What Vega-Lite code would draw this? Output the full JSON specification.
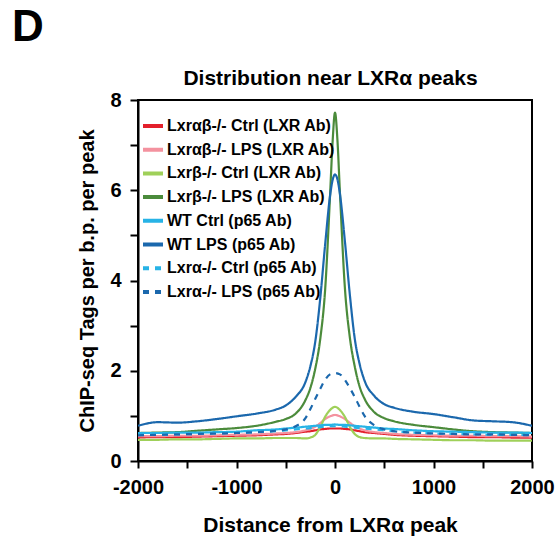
{
  "$schema": "https://vega.github.io/schema/vega-lite/v6.json",
  "width": 394,
  "height": 361,
  "autosize": {"type": "none"},
  "padding": {"left": 138, "top": 100, "right": 25, "bottom": 77},
  "background": "white",
  "title": {"text": "D", "anchor": "start", "frame": "group", "fontSize": 44, "fontWeight": "bold", "font": "Liberation Sans", "color": "black", "dx": -126, "dy": -13, "offset": 4},
  "config": {
    "view": {"stroke": "black", "strokeWidth": 2},
    "axis": {
      "grid": false,
      "domainColor": "black", "domainWidth": 2,
      "tickColor": "black", "tickWidth": 2,
      "labelFont": "Liberation Sans", "labelFontSize": 20, "labelFontWeight": "bold", "labelColor": "black",
      "titleFont": "Liberation Sans", "titleFontSize": 20, "titleFontWeight": "bold", "titleColor": "black"
    },
    "legend": {"labelFont": "Liberation Sans", "labelFontSize": 16, "labelFontWeight": "bold", "labelColor": "black"}
  },
  "data": {"values": [
    {"s":"Lxrαβ-/- Ctrl (LXR Ab)","x":-2000,"y":0.52},{"s":"Lxrαβ-/- Ctrl (LXR Ab)","x":-1800,"y":0.53},{"s":"Lxrαβ-/- Ctrl (LXR Ab)","x":-1600,"y":0.53},{"s":"Lxrαβ-/- Ctrl (LXR Ab)","x":-1400,"y":0.54},{"s":"Lxrαβ-/- Ctrl (LXR Ab)","x":-1200,"y":0.55},{"s":"Lxrαβ-/- Ctrl (LXR Ab)","x":-1000,"y":0.56},{"s":"Lxrαβ-/- Ctrl (LXR Ab)","x":-800,"y":0.57},{"s":"Lxrαβ-/- Ctrl (LXR Ab)","x":-600,"y":0.59},{"s":"Lxrαβ-/- Ctrl (LXR Ab)","x":-500,"y":0.6},{"s":"Lxrαβ-/- Ctrl (LXR Ab)","x":-400,"y":0.62},{"s":"Lxrαβ-/- Ctrl (LXR Ab)","x":-300,"y":0.65},{"s":"Lxrαβ-/- Ctrl (LXR Ab)","x":-250,"y":0.66},{"s":"Lxrαβ-/- Ctrl (LXR Ab)","x":-200,"y":0.68},{"s":"Lxrαβ-/- Ctrl (LXR Ab)","x":-150,"y":0.7},{"s":"Lxrαβ-/- Ctrl (LXR Ab)","x":-100,"y":0.71},{"s":"Lxrαβ-/- Ctrl (LXR Ab)","x":-50,"y":0.72},{"s":"Lxrαβ-/- Ctrl (LXR Ab)","x":0,"y":0.72},{"s":"Lxrαβ-/- Ctrl (LXR Ab)","x":50,"y":0.72},{"s":"Lxrαβ-/- Ctrl (LXR Ab)","x":100,"y":0.71},{"s":"Lxrαβ-/- Ctrl (LXR Ab)","x":150,"y":0.7},{"s":"Lxrαβ-/- Ctrl (LXR Ab)","x":200,"y":0.68},{"s":"Lxrαβ-/- Ctrl (LXR Ab)","x":250,"y":0.66},{"s":"Lxrαβ-/- Ctrl (LXR Ab)","x":300,"y":0.64},{"s":"Lxrαβ-/- Ctrl (LXR Ab)","x":400,"y":0.62},{"s":"Lxrαβ-/- Ctrl (LXR Ab)","x":500,"y":0.6},{"s":"Lxrαβ-/- Ctrl (LXR Ab)","x":600,"y":0.58},{"s":"Lxrαβ-/- Ctrl (LXR Ab)","x":800,"y":0.56},{"s":"Lxrαβ-/- Ctrl (LXR Ab)","x":1000,"y":0.55},{"s":"Lxrαβ-/- Ctrl (LXR Ab)","x":1200,"y":0.54},{"s":"Lxrαβ-/- Ctrl (LXR Ab)","x":1400,"y":0.53},{"s":"Lxrαβ-/- Ctrl (LXR Ab)","x":1600,"y":0.53},{"s":"Lxrαβ-/- Ctrl (LXR Ab)","x":1800,"y":0.52},{"s":"Lxrαβ-/- Ctrl (LXR Ab)","x":2000,"y":0.52},
    {"s":"Lxrαβ-/- LPS (LXR Ab)","x":-2000,"y":0.55},{"s":"Lxrαβ-/- LPS (LXR Ab)","x":-1800,"y":0.55},{"s":"Lxrαβ-/- LPS (LXR Ab)","x":-1600,"y":0.56},{"s":"Lxrαβ-/- LPS (LXR Ab)","x":-1400,"y":0.56},{"s":"Lxrαβ-/- LPS (LXR Ab)","x":-1200,"y":0.57},{"s":"Lxrαβ-/- LPS (LXR Ab)","x":-1000,"y":0.58},{"s":"Lxrαβ-/- LPS (LXR Ab)","x":-800,"y":0.59},{"s":"Lxrαβ-/- LPS (LXR Ab)","x":-600,"y":0.61},{"s":"Lxrαβ-/- LPS (LXR Ab)","x":-500,"y":0.62},{"s":"Lxrαβ-/- LPS (LXR Ab)","x":-400,"y":0.64},{"s":"Lxrαβ-/- LPS (LXR Ab)","x":-300,"y":0.68},{"s":"Lxrαβ-/- LPS (LXR Ab)","x":-250,"y":0.71},{"s":"Lxrαβ-/- LPS (LXR Ab)","x":-200,"y":0.76},{"s":"Lxrαβ-/- LPS (LXR Ab)","x":-150,"y":0.84},{"s":"Lxrαβ-/- LPS (LXR Ab)","x":-100,"y":0.93},{"s":"Lxrαβ-/- LPS (LXR Ab)","x":-50,"y":0.99},{"s":"Lxrαβ-/- LPS (LXR Ab)","x":0,"y":1.02},{"s":"Lxrαβ-/- LPS (LXR Ab)","x":50,"y":0.99},{"s":"Lxrαβ-/- LPS (LXR Ab)","x":100,"y":0.93},{"s":"Lxrαβ-/- LPS (LXR Ab)","x":150,"y":0.85},{"s":"Lxrαβ-/- LPS (LXR Ab)","x":200,"y":0.77},{"s":"Lxrαβ-/- LPS (LXR Ab)","x":250,"y":0.72},{"s":"Lxrαβ-/- LPS (LXR Ab)","x":300,"y":0.68},{"s":"Lxrαβ-/- LPS (LXR Ab)","x":400,"y":0.64},{"s":"Lxrαβ-/- LPS (LXR Ab)","x":500,"y":0.62},{"s":"Lxrαβ-/- LPS (LXR Ab)","x":600,"y":0.6},{"s":"Lxrαβ-/- LPS (LXR Ab)","x":800,"y":0.58},{"s":"Lxrαβ-/- LPS (LXR Ab)","x":1000,"y":0.57},{"s":"Lxrαβ-/- LPS (LXR Ab)","x":1200,"y":0.56},{"s":"Lxrαβ-/- LPS (LXR Ab)","x":1400,"y":0.56},{"s":"Lxrαβ-/- LPS (LXR Ab)","x":1600,"y":0.55},{"s":"Lxrαβ-/- LPS (LXR Ab)","x":1800,"y":0.55},{"s":"Lxrαβ-/- LPS (LXR Ab)","x":2000,"y":0.54},
    {"s":"Lxrβ-/- Ctrl (LXR Ab)","x":-2000,"y":0.47},{"s":"Lxrβ-/- Ctrl (LXR Ab)","x":-1800,"y":0.47},{"s":"Lxrβ-/- Ctrl (LXR Ab)","x":-1600,"y":0.48},{"s":"Lxrβ-/- Ctrl (LXR Ab)","x":-1400,"y":0.48},{"s":"Lxrβ-/- Ctrl (LXR Ab)","x":-1200,"y":0.49},{"s":"Lxrβ-/- Ctrl (LXR Ab)","x":-1000,"y":0.5},{"s":"Lxrβ-/- Ctrl (LXR Ab)","x":-800,"y":0.5},{"s":"Lxrβ-/- Ctrl (LXR Ab)","x":-600,"y":0.51},{"s":"Lxrβ-/- Ctrl (LXR Ab)","x":-500,"y":0.51},{"s":"Lxrβ-/- Ctrl (LXR Ab)","x":-400,"y":0.51},{"s":"Lxrβ-/- Ctrl (LXR Ab)","x":-300,"y":0.5},{"s":"Lxrβ-/- Ctrl (LXR Ab)","x":-250,"y":0.52},{"s":"Lxrβ-/- Ctrl (LXR Ab)","x":-200,"y":0.58},{"s":"Lxrβ-/- Ctrl (LXR Ab)","x":-150,"y":0.75},{"s":"Lxrβ-/- Ctrl (LXR Ab)","x":-100,"y":0.98},{"s":"Lxrβ-/- Ctrl (LXR Ab)","x":-50,"y":1.13},{"s":"Lxrβ-/- Ctrl (LXR Ab)","x":0,"y":1.2},{"s":"Lxrβ-/- Ctrl (LXR Ab)","x":50,"y":1.13},{"s":"Lxrβ-/- Ctrl (LXR Ab)","x":100,"y":0.98},{"s":"Lxrβ-/- Ctrl (LXR Ab)","x":150,"y":0.76},{"s":"Lxrβ-/- Ctrl (LXR Ab)","x":200,"y":0.6},{"s":"Lxrβ-/- Ctrl (LXR Ab)","x":250,"y":0.53},{"s":"Lxrβ-/- Ctrl (LXR Ab)","x":300,"y":0.51},{"s":"Lxrβ-/- Ctrl (LXR Ab)","x":400,"y":0.5},{"s":"Lxrβ-/- Ctrl (LXR Ab)","x":500,"y":0.5},{"s":"Lxrβ-/- Ctrl (LXR Ab)","x":600,"y":0.49},{"s":"Lxrβ-/- Ctrl (LXR Ab)","x":800,"y":0.48},{"s":"Lxrβ-/- Ctrl (LXR Ab)","x":1000,"y":0.47},{"s":"Lxrβ-/- Ctrl (LXR Ab)","x":1200,"y":0.46},{"s":"Lxrβ-/- Ctrl (LXR Ab)","x":1400,"y":0.46},{"s":"Lxrβ-/- Ctrl (LXR Ab)","x":1600,"y":0.45},{"s":"Lxrβ-/- Ctrl (LXR Ab)","x":1800,"y":0.45},{"s":"Lxrβ-/- Ctrl (LXR Ab)","x":2000,"y":0.45},
    {"s":"Lxrβ-/- LPS (LXR Ab)","x":-2000,"y":0.62},{"s":"Lxrβ-/- LPS (LXR Ab)","x":-1800,"y":0.63},{"s":"Lxrβ-/- LPS (LXR Ab)","x":-1600,"y":0.64},{"s":"Lxrβ-/- LPS (LXR Ab)","x":-1400,"y":0.67},{"s":"Lxrβ-/- LPS (LXR Ab)","x":-1200,"y":0.7},{"s":"Lxrβ-/- LPS (LXR Ab)","x":-1000,"y":0.73},{"s":"Lxrβ-/- LPS (LXR Ab)","x":-800,"y":0.78},{"s":"Lxrβ-/- LPS (LXR Ab)","x":-600,"y":0.87},{"s":"Lxrβ-/- LPS (LXR Ab)","x":-500,"y":0.93},{"s":"Lxrβ-/- LPS (LXR Ab)","x":-400,"y":1.05},{"s":"Lxrβ-/- LPS (LXR Ab)","x":-300,"y":1.35},{"s":"Lxrβ-/- LPS (LXR Ab)","x":-250,"y":1.62},{"s":"Lxrβ-/- LPS (LXR Ab)","x":-200,"y":2.05},{"s":"Lxrβ-/- LPS (LXR Ab)","x":-150,"y":2.7},{"s":"Lxrβ-/- LPS (LXR Ab)","x":-100,"y":3.8},{"s":"Lxrβ-/- LPS (LXR Ab)","x":-50,"y":5.9},{"s":"Lxrβ-/- LPS (LXR Ab)","x":-25,"y":7.05},{"s":"Lxrβ-/- LPS (LXR Ab)","x":0,"y":7.72},{"s":"Lxrβ-/- LPS (LXR Ab)","x":25,"y":7.1},{"s":"Lxrβ-/- LPS (LXR Ab)","x":50,"y":5.95},{"s":"Lxrβ-/- LPS (LXR Ab)","x":100,"y":3.85},{"s":"Lxrβ-/- LPS (LXR Ab)","x":150,"y":2.75},{"s":"Lxrβ-/- LPS (LXR Ab)","x":200,"y":2.1},{"s":"Lxrβ-/- LPS (LXR Ab)","x":250,"y":1.65},{"s":"Lxrβ-/- LPS (LXR Ab)","x":300,"y":1.38},{"s":"Lxrβ-/- LPS (LXR Ab)","x":400,"y":1.08},{"s":"Lxrβ-/- LPS (LXR Ab)","x":500,"y":0.95},{"s":"Lxrβ-/- LPS (LXR Ab)","x":600,"y":0.88},{"s":"Lxrβ-/- LPS (LXR Ab)","x":800,"y":0.8},{"s":"Lxrβ-/- LPS (LXR Ab)","x":1000,"y":0.75},{"s":"Lxrβ-/- LPS (LXR Ab)","x":1200,"y":0.7},{"s":"Lxrβ-/- LPS (LXR Ab)","x":1400,"y":0.66},{"s":"Lxrβ-/- LPS (LXR Ab)","x":1600,"y":0.64},{"s":"Lxrβ-/- LPS (LXR Ab)","x":1800,"y":0.63},{"s":"Lxrβ-/- LPS (LXR Ab)","x":2000,"y":0.62},
    {"s":"WT Ctrl (p65 Ab)","x":-2000,"y":0.62},{"s":"WT Ctrl (p65 Ab)","x":-1800,"y":0.62},{"s":"WT Ctrl (p65 Ab)","x":-1600,"y":0.63},{"s":"WT Ctrl (p65 Ab)","x":-1400,"y":0.63},{"s":"WT Ctrl (p65 Ab)","x":-1200,"y":0.64},{"s":"WT Ctrl (p65 Ab)","x":-1000,"y":0.65},{"s":"WT Ctrl (p65 Ab)","x":-800,"y":0.68},{"s":"WT Ctrl (p65 Ab)","x":-600,"y":0.7},{"s":"WT Ctrl (p65 Ab)","x":-500,"y":0.72},{"s":"WT Ctrl (p65 Ab)","x":-400,"y":0.74},{"s":"WT Ctrl (p65 Ab)","x":-300,"y":0.76},{"s":"WT Ctrl (p65 Ab)","x":-250,"y":0.77},{"s":"WT Ctrl (p65 Ab)","x":-200,"y":0.78},{"s":"WT Ctrl (p65 Ab)","x":-150,"y":0.79},{"s":"WT Ctrl (p65 Ab)","x":-100,"y":0.8},{"s":"WT Ctrl (p65 Ab)","x":-50,"y":0.8},{"s":"WT Ctrl (p65 Ab)","x":0,"y":0.81},{"s":"WT Ctrl (p65 Ab)","x":50,"y":0.8},{"s":"WT Ctrl (p65 Ab)","x":100,"y":0.8},{"s":"WT Ctrl (p65 Ab)","x":150,"y":0.79},{"s":"WT Ctrl (p65 Ab)","x":200,"y":0.78},{"s":"WT Ctrl (p65 Ab)","x":250,"y":0.77},{"s":"WT Ctrl (p65 Ab)","x":300,"y":0.76},{"s":"WT Ctrl (p65 Ab)","x":400,"y":0.74},{"s":"WT Ctrl (p65 Ab)","x":500,"y":0.72},{"s":"WT Ctrl (p65 Ab)","x":600,"y":0.71},{"s":"WT Ctrl (p65 Ab)","x":800,"y":0.68},{"s":"WT Ctrl (p65 Ab)","x":1000,"y":0.66},{"s":"WT Ctrl (p65 Ab)","x":1200,"y":0.65},{"s":"WT Ctrl (p65 Ab)","x":1400,"y":0.64},{"s":"WT Ctrl (p65 Ab)","x":1600,"y":0.63},{"s":"WT Ctrl (p65 Ab)","x":1800,"y":0.63},{"s":"WT Ctrl (p65 Ab)","x":2000,"y":0.62},
    {"s":"WT LPS (p65 Ab)","x":-2000,"y":0.78},{"s":"WT LPS (p65 Ab)","x":-1800,"y":0.86},{"s":"WT LPS (p65 Ab)","x":-1600,"y":0.85},{"s":"WT LPS (p65 Ab)","x":-1400,"y":0.88},{"s":"WT LPS (p65 Ab)","x":-1200,"y":0.93},{"s":"WT LPS (p65 Ab)","x":-1000,"y":0.99},{"s":"WT LPS (p65 Ab)","x":-800,"y":1.05},{"s":"WT LPS (p65 Ab)","x":-600,"y":1.14},{"s":"WT LPS (p65 Ab)","x":-500,"y":1.23},{"s":"WT LPS (p65 Ab)","x":-400,"y":1.42},{"s":"WT LPS (p65 Ab)","x":-300,"y":1.75},{"s":"WT LPS (p65 Ab)","x":-250,"y":2.1},{"s":"WT LPS (p65 Ab)","x":-200,"y":2.65},{"s":"WT LPS (p65 Ab)","x":-150,"y":3.6},{"s":"WT LPS (p65 Ab)","x":-100,"y":4.8},{"s":"WT LPS (p65 Ab)","x":-50,"y":5.88},{"s":"WT LPS (p65 Ab)","x":-25,"y":6.22},{"s":"WT LPS (p65 Ab)","x":0,"y":6.35},{"s":"WT LPS (p65 Ab)","x":25,"y":6.24},{"s":"WT LPS (p65 Ab)","x":50,"y":5.92},{"s":"WT LPS (p65 Ab)","x":100,"y":4.88},{"s":"WT LPS (p65 Ab)","x":150,"y":3.7},{"s":"WT LPS (p65 Ab)","x":200,"y":2.72},{"s":"WT LPS (p65 Ab)","x":250,"y":2.15},{"s":"WT LPS (p65 Ab)","x":300,"y":1.78},{"s":"WT LPS (p65 Ab)","x":400,"y":1.44},{"s":"WT LPS (p65 Ab)","x":500,"y":1.26},{"s":"WT LPS (p65 Ab)","x":600,"y":1.18},{"s":"WT LPS (p65 Ab)","x":800,"y":1.09},{"s":"WT LPS (p65 Ab)","x":1000,"y":1.04},{"s":"WT LPS (p65 Ab)","x":1200,"y":0.97},{"s":"WT LPS (p65 Ab)","x":1400,"y":0.9},{"s":"WT LPS (p65 Ab)","x":1600,"y":0.88},{"s":"WT LPS (p65 Ab)","x":1800,"y":0.86},{"s":"WT LPS (p65 Ab)","x":2000,"y":0.78},
    {"s":"Lxrα-/- Ctrl (p65 Ab)","x":-2000,"y":0.58},{"s":"Lxrα-/- Ctrl (p65 Ab)","x":-1800,"y":0.58},{"s":"Lxrα-/- Ctrl (p65 Ab)","x":-1600,"y":0.59},{"s":"Lxrα-/- Ctrl (p65 Ab)","x":-1400,"y":0.6},{"s":"Lxrα-/- Ctrl (p65 Ab)","x":-1200,"y":0.61},{"s":"Lxrα-/- Ctrl (p65 Ab)","x":-1000,"y":0.62},{"s":"Lxrα-/- Ctrl (p65 Ab)","x":-800,"y":0.64},{"s":"Lxrα-/- Ctrl (p65 Ab)","x":-600,"y":0.66},{"s":"Lxrα-/- Ctrl (p65 Ab)","x":-500,"y":0.68},{"s":"Lxrα-/- Ctrl (p65 Ab)","x":-400,"y":0.7},{"s":"Lxrα-/- Ctrl (p65 Ab)","x":-300,"y":0.72},{"s":"Lxrα-/- Ctrl (p65 Ab)","x":-250,"y":0.73},{"s":"Lxrα-/- Ctrl (p65 Ab)","x":-200,"y":0.74},{"s":"Lxrα-/- Ctrl (p65 Ab)","x":-150,"y":0.75},{"s":"Lxrα-/- Ctrl (p65 Ab)","x":-100,"y":0.76},{"s":"Lxrα-/- Ctrl (p65 Ab)","x":-50,"y":0.77},{"s":"Lxrα-/- Ctrl (p65 Ab)","x":0,"y":0.77},{"s":"Lxrα-/- Ctrl (p65 Ab)","x":50,"y":0.77},{"s":"Lxrα-/- Ctrl (p65 Ab)","x":100,"y":0.76},{"s":"Lxrα-/- Ctrl (p65 Ab)","x":150,"y":0.75},{"s":"Lxrα-/- Ctrl (p65 Ab)","x":200,"y":0.74},{"s":"Lxrα-/- Ctrl (p65 Ab)","x":250,"y":0.73},{"s":"Lxrα-/- Ctrl (p65 Ab)","x":300,"y":0.72},{"s":"Lxrα-/- Ctrl (p65 Ab)","x":400,"y":0.7},{"s":"Lxrα-/- Ctrl (p65 Ab)","x":500,"y":0.68},{"s":"Lxrα-/- Ctrl (p65 Ab)","x":600,"y":0.66},{"s":"Lxrα-/- Ctrl (p65 Ab)","x":800,"y":0.63},{"s":"Lxrα-/- Ctrl (p65 Ab)","x":1000,"y":0.61},{"s":"Lxrα-/- Ctrl (p65 Ab)","x":1200,"y":0.6},{"s":"Lxrα-/- Ctrl (p65 Ab)","x":1400,"y":0.59},{"s":"Lxrα-/- Ctrl (p65 Ab)","x":1600,"y":0.58},{"s":"Lxrα-/- Ctrl (p65 Ab)","x":1800,"y":0.58},{"s":"Lxrα-/- Ctrl (p65 Ab)","x":2000,"y":0.57},
    {"s":"Lxrα-/- LPS (p65 Ab)","x":-2000,"y":0.57},{"s":"Lxrα-/- LPS (p65 Ab)","x":-1800,"y":0.58},{"s":"Lxrα-/- LPS (p65 Ab)","x":-1600,"y":0.59},{"s":"Lxrα-/- LPS (p65 Ab)","x":-1400,"y":0.6},{"s":"Lxrα-/- LPS (p65 Ab)","x":-1200,"y":0.61},{"s":"Lxrα-/- LPS (p65 Ab)","x":-1000,"y":0.62},{"s":"Lxrα-/- LPS (p65 Ab)","x":-800,"y":0.64},{"s":"Lxrα-/- LPS (p65 Ab)","x":-600,"y":0.67},{"s":"Lxrα-/- LPS (p65 Ab)","x":-500,"y":0.7},{"s":"Lxrα-/- LPS (p65 Ab)","x":-400,"y":0.77},{"s":"Lxrα-/- LPS (p65 Ab)","x":-300,"y":0.95},{"s":"Lxrα-/- LPS (p65 Ab)","x":-250,"y":1.15},{"s":"Lxrα-/- LPS (p65 Ab)","x":-200,"y":1.38},{"s":"Lxrα-/- LPS (p65 Ab)","x":-150,"y":1.6},{"s":"Lxrα-/- LPS (p65 Ab)","x":-100,"y":1.8},{"s":"Lxrα-/- LPS (p65 Ab)","x":-50,"y":1.92},{"s":"Lxrα-/- LPS (p65 Ab)","x":0,"y":1.95},{"s":"Lxrα-/- LPS (p65 Ab)","x":50,"y":1.92},{"s":"Lxrα-/- LPS (p65 Ab)","x":100,"y":1.8},{"s":"Lxrα-/- LPS (p65 Ab)","x":150,"y":1.62},{"s":"Lxrα-/- LPS (p65 Ab)","x":200,"y":1.42},{"s":"Lxrα-/- LPS (p65 Ab)","x":250,"y":1.2},{"s":"Lxrα-/- LPS (p65 Ab)","x":300,"y":1.0},{"s":"Lxrα-/- LPS (p65 Ab)","x":400,"y":0.79},{"s":"Lxrα-/- LPS (p65 Ab)","x":500,"y":0.7},{"s":"Lxrα-/- LPS (p65 Ab)","x":600,"y":0.66},{"s":"Lxrα-/- LPS (p65 Ab)","x":800,"y":0.63},{"s":"Lxrα-/- LPS (p65 Ab)","x":1000,"y":0.61},{"s":"Lxrα-/- LPS (p65 Ab)","x":1200,"y":0.6},{"s":"Lxrα-/- LPS (p65 Ab)","x":1400,"y":0.59},{"s":"Lxrα-/- LPS (p65 Ab)","x":1600,"y":0.59},{"s":"Lxrα-/- LPS (p65 Ab)","x":1800,"y":0.58},{"s":"Lxrα-/- LPS (p65 Ab)","x":2000,"y":0.57}
  ]},
  "layer": [
    {
      "mark": {"type": "line", "strokeWidth": 2.2, "clip": true, "interpolate": "monotone"},
      "encoding": {
        "x": {"field": "x", "type": "quantitative",
          "scale": {"domain": [-2000, 2000], "nice": false},
          "axis": {"orient": "bottom", "title": "Distance from LXRα peak", "titleFontSize": 21, "titleX": 192, "values": [-2000, -1500, -1000, -500, 0, 500, 1000, 1500, 2000],
            "labelExpr": "datum.value % 1000 == 0 ? '' + datum.value : ''", "tickSize": 7, "labelPadding": 9, "titlePadding": 17, "labelFlush": false}},
        "y": {"field": "y", "type": "quantitative",
          "scale": {"domain": [0, 8], "nice": false},
          "axis": {"orient": "left", "title": "ChIP-seq Tags per b.p. per peak", "values": [0, 1, 2, 3, 4, 5, 6, 7, 8],
            "labelExpr": "datum.value % 2 == 0 ? '' + datum.value : ''", "tickSize": 8, "labelPadding": 9, "titlePadding": 12}},
        "color": {"field": "s", "type": "nominal",
          "scale": {
            "domain": ["Lxrαβ-/- Ctrl (LXR Ab)", "Lxrαβ-/- LPS (LXR Ab)", "Lxrβ-/- Ctrl (LXR Ab)", "Lxrβ-/- LPS (LXR Ab)", "WT Ctrl (p65 Ab)", "WT LPS (p65 Ab)", "Lxrα-/- Ctrl (p65 Ab)", "Lxrα-/- LPS (p65 Ab)"],
            "range": ["#e3202b", "#f4929f", "#9fd059", "#4b8b3b", "#27b3e6", "#1b68ad", "#27b3e6", "#1b68ad"]},
          "legend": {"title": null, "orient": "none", "legendX": 3, "legendY": 14, "symbolType": "stroke", "symbolSize": 400, "symbolStrokeWidth": 4, "rowPadding": 3.7, "labelOffset": 2, "labelLimit": 400}},
        "strokeDash": {"field": "s", "type": "nominal",
          "scale": {
            "domain": ["Lxrαβ-/- Ctrl (LXR Ab)", "Lxrαβ-/- LPS (LXR Ab)", "Lxrβ-/- Ctrl (LXR Ab)", "Lxrβ-/- LPS (LXR Ab)", "WT Ctrl (p65 Ab)", "WT LPS (p65 Ab)", "Lxrα-/- Ctrl (p65 Ab)", "Lxrα-/- LPS (p65 Ab)"],
            "range": [[1, 0], [1, 0], [1, 0], [1, 0], [1, 0], [1, 0], [6, 6], [6, 6]]},
          "legend": {"title": null}}
      }
    },
    {
      "mark": {"type": "rule", "opacity": 0},
      "encoding": {
        "x": {"datum": 0, "type": "quantitative",
          "axis": {"orient": "top", "title": "Distribution near LXRα peaks", "titleFontSize": 21, "titleX": 192, "labels": false, "ticks": false, "domain": false, "titlePadding": 12}}
      }
    }
  ],
  "resolve": {"axis": {"x": "independent"}}
}
